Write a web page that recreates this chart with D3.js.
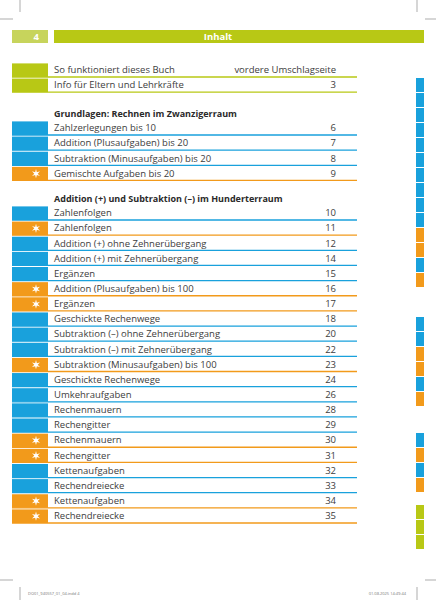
<!DOCTYPE html>
<meta charset="utf-8">
<head>
    <title>Inhalt</title>
    <script src="https://d3js.org/d3.v7.min.js"></script>
    <style>
        body { margin: 0; background: #fff; }
        svg { display: block; font-family: "Open Sans", sans-serif; }
        .entry text { font-size: 9.5px; fill: #3d3d3d; }
        .heading { font-size: 9px; font-weight: bold; fill: #2a2a2a; }
        .slug { font-size: 4px; fill: #777; }
    </style>
</head>
<body>
    <script>

        // contents
        var sectionTitles = ["", "Grundlagen: Rechnen im Zwanzigerraum", "Addition (+) und Subtraktion (–) im Hunderterraum"];
        var entryTitles = [
            "So funktioniert dieses Buch", "Info für Eltern und Lehrkräfte",
            "Zahlzerlegungen bis 10", "Addition (Plusaufgaben) bis 20", "Subtraktion (Minusaufgaben) bis 20", "Gemischte Aufgaben bis 20",
            "Zahlenfolgen", "Zahlenfolgen", "Addition (+) ohne Zehnerübergang", "Addition (+) mit Zehnerübergang", "Ergänzen",
            "Addition (Plusaufgaben) bis 100", "Ergänzen", "Geschickte Rechenwege", "Subtraktion (–) ohne Zehnerübergang",
            "Subtraktion (–) mit Zehnerübergang", "Subtraktion (Minusaufgaben) bis 100", "Geschickte Rechenwege", "Umkehraufgaben",
            "Rechenmauern", "Rechengitter", "Rechenmauern", "Rechengitter", "Kettenaufgaben", "Rechendreiecke", "Kettenaufgaben", "Rechendreiecke"
        ];
        var entryPages = ["vordere Umschlagseite", "3", "6", "7", "8", "9", "10", "11", "12", "14", "15", "16", "17", "18", "20",
            "22", "23", "24", "26", "28", "29", "30", "31", "32", "33", "34", "35"];
        var entryKinds = ["g", "g", "b", "b", "b", "o", "b", "o", "b", "b", "b", "o", "o", "b", "b", "b", "o", "b", "b", "b", "b",
            "o", "o", "b", "b", "o", "o"];
        var entrySections = [0, 0, 1, 1, 1, 1, 2, 2, 2, 2, 2, 2, 2, 2, 2, 2, 2, 2, 2, 2, 2, 2, 2, 2, 2, 2, 2];

        // thumb index on the right edge
        var tabGroups = [
            ["b", "b", "b", "b", "b", "b", "b", "b", "b", "b", "o", "o", "b", "o"],
            ["b", "b", "o", "o", "b", "o"],
            ["b", "o", "b", "o"],
            ["g", "g", "g"]
        ];

        var pageNumber = "4", pageTitle = "Inhalt";
        var slugLeft = "DO01_940557_01_04.indd   4", slugRight = "01.08.2025   14:49:44";

        var width = 436, height = 600;
        var sectionFirstLine = [77, 135, 220];
        var tabStarts = [78, 317, 433, 505];
        var pitch = 15.15;

        var color = d3.scaleOrdinal()
            .domain(["b", "o", "g"])
            .range(["#19a1dc", "#f29a1b", "#b8c815"]);

        var svg = d3.select("body").append("svg")
            .attr("width", width)
            .attr("height", height);

        // crop marks
        var marks = [[20, 0, 20, 12], [0, 19, 13, 19], [417, 0, 417, 12], [425, 19, 436, 19],
            [0, 580, 13, 580], [20, 587, 20, 600], [425, 580, 436, 580], [417, 587, 417, 600]];
        svg.selectAll(".crop").data(marks).enter().append("line")
            .attr("class", "crop")
            .attr("x1", function (d) { return d[0]; }).attr("y1", function (d) { return d[1]; })
            .attr("x2", function (d) { return d[2]; }).attr("y2", function (d) { return d[3]; })
            .attr("stroke", "#8a8a8a").attr("stroke-width", 0.7);

        svg.append("text").attr("class", "slug").attr("x", 28).attr("y", 595).text(slugLeft);
        svg.append("text").attr("class", "slug").attr("x", 406).attr("y", 595)
            .attr("text-anchor", "end").text(slugRight);

        // header bar
        svg.append("rect").attr("x", 12).attr("y", 30).attr("width", 36).attr("height", 13).attr("fill", "#c7d45c");
        svg.append("rect").attr("x", 54).attr("y", 30).attr("width", 370).attr("height", 13).attr("fill", "#b8c815");
        svg.append("text").attr("x", 39).attr("y", 40.3).attr("text-anchor", "end")
            .attr("fill", "#fff").attr("font-size", 9.5).attr("font-weight", "bold").text(pageNumber);
        svg.append("text").attr("x", 218).attr("y", 40.3).attr("text-anchor", "middle")
            .attr("fill", "#fff").attr("font-size", 9.5).attr("font-weight", "bold").text(pageTitle);

        // rows
        var rows = entryTitles.map(function (t, i) {
            var s = entrySections[i];
            var k = entrySections.slice(0, i).filter(function (v) { return v === s; }).length;
            return { title: t, page: entryPages[i], kind: entryKinds[i], section: s, index: k };
        });

        function lineY(d) {
            var y = d3.scaleLinear().domain([0, 1]).range([sectionFirstLine[d.section], sectionFirstLine[d.section] + pitch]);
            return y(d.index);
        }

        svg.selectAll(".heading").data(sectionTitles.filter(function (t) { return t; })).enter().append("text")
            .attr("class", "heading")
            .attr("x", 54)
            .attr("y", function (d, i) { return sectionFirstLine[i + 1] - 18; })
            .text(function (d) { return d; });

        var entry = svg.selectAll(".entry").data(rows).enter().append("g")
            .attr("class", "entry")
            .attr("transform", function (d) { return "translate(0," + lineY(d) + ")"; });

        entry.append("line")
            .attr("x1", 12).attr("x2", 357)
            .attr("stroke", function (d) { return color(d.kind); })
            .attr("stroke-width", 1.3);

        entry.append("rect")
            .attr("x", 12).attr("y", -13.6)
            .attr("width", 36).attr("height", 13.6)
            .attr("fill", function (d) { return color(d.kind); });

        entry.append("text")
            .attr("x", 54).attr("y", -3.8)
            .text(function (d) { return d.title; });

        entry.append("text")
            .attr("x", 336).attr("y", -3.8)
            .attr("text-anchor", "end")
            .text(function (d) { return d.page; });

        var star = d3.lineRadial().curve(d3.curveLinearClosed)
            .angle(function (d, i) { return i * Math.PI / 6; })
            .radius(function (d, i) { return i % 2 ? 1.7 : 4.6; });

        entry.filter(function (d) { return d.kind === "o"; }).append("path")
            .attr("transform", "translate(36,-6.8)")
            .attr("d", star(d3.range(12)))
            .attr("fill", "#fff");

        // thumb index
        var tabs = [];
        tabGroups.forEach(function (g, gi) {
            g.forEach(function (k, i) { tabs.push({ kind: k, group: gi, index: i }); });
        });
        svg.selectAll(".tab").data(tabs).enter().append("rect")
            .attr("class", "tab")
            .attr("x", 416)
            .attr("y", function (d) { return tabStarts[d.group] + d.index * 15; })
            .attr("width", 8).attr("height", 14)
            .attr("fill", function (d) { return color(d.kind); });

    </script>
</body>
